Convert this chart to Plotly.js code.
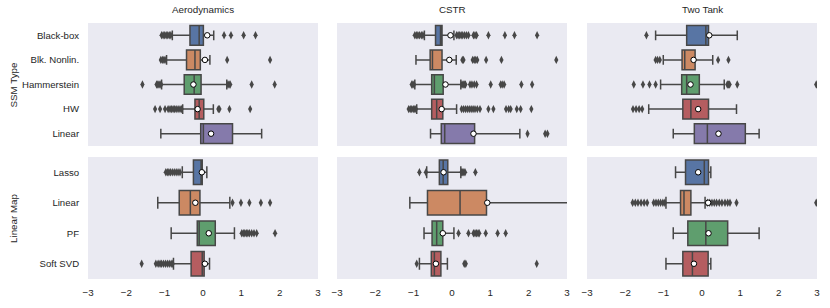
<!DOCTYPE html>
<html><head><meta charset="utf-8">
<script src="https://cdn.plot.ly/plotly-3.0.1.min.js"></script>
<style>body{margin:0;padding:0;}#chart{width:830px;height:308px;}</style>
</head><body><div id="chart"></div>
<script>
const datasets = ['Aerodynamics', 'CSTR', 'Two Tank'];
const ssmTypes = ['Black-box', 'Blk. Nonlin.', 'Hammerstein', 'HW', 'Linear'];
const linearMaps = ['Lasso', 'Linear', 'PF', 'Soft SVD'];
const ticks = [-3, -2, -1, 0, 1, 2, 3];

// SSM Type row: [Aerodynamics, CSTR, Two Tank], each in ssmTypes order
const ssmQ1   = [[-0.34,-0.43,-0.49,-0.21,-0.06], [-0.43,-0.57,-0.53,-0.53,-0.28], [-0.40,-0.52,-0.53,-0.50,-0.20]];
const ssmMed  = [[-0.10,-0.21,-0.23,-0.10, 0.01], [-0.30,-0.51,-0.46,-0.40,-0.19], [ 0.10,-0.45,-0.40,-0.29, 0.14]];
const ssmQ3   = [[ 0.01,-0.07,-0.05, 0.02, 0.77], [-0.26,-0.26,-0.23,-0.24, 0.59], [ 0.17,-0.18,-0.07, 0.17, 1.13]];
const ssmLo   = [[-0.80,-0.95,-1.08,-0.53,-1.10], [-0.72,-0.94,-0.97,-0.92,-0.56], [-1.21,-1.01,-1.08,-1.39,-0.75]];
const ssmHi   = [[ 0.28, 0.18, 0.62, 0.27, 1.53], [ 0.05, 0.11, 0.23, 0.12, 1.77], [ 0.92, 0.28, 0.58, 0.90, 1.49]];
const ssmMean = [[ 0.11, 0.05,-0.25,-0.14, 0.21], [-0.04,-0.07,-0.17,-0.27, 0.56], [ 0.19,-0.22,-0.30,-0.10, 0.43]];
const ssmOut = [
  [[-1.08,-1.04,-1.00,-0.96,-0.92,-0.88,-0.84,0.55,0.73,1.06,1.37],
   [-1.10,-1.06,-1.02,-0.99,0.63,1.75],
   [-1.58,-1.21,-1.18,-1.15,-1.12,-1.09,0.65,0.68,0.71,1.27,1.87],
   [-1.25,-1.12,-0.99,-0.91,-0.86,-0.82,-0.78,-0.74,-0.70,-0.65,-0.60,-0.56,0.40,0.43,0.69,1.23],
   []],
  [[-0.97,-0.93,-0.89,-0.85,-0.80,-0.76,0.12,0.16,0.20,0.24,0.28,0.33,0.38,0.43,0.56,0.60,0.64,0.95,1.38,1.63,2.22],
   [0.27,0.30,0.54,0.58,0.62,0.66,0.89,1.29,2.72],
   [-1.05,-1.02,-0.99,0.26,0.29,0.32,0.35,0.47,0.52,0.58,0.64,1.01,1.27,1.31,1.36,1.81,2.09],
   [-1.13,-1.09,-1.05,-1.01,-0.97,-0.94,0.25,0.30,0.35,0.40,0.45,0.50,0.55,0.60,0.66,0.73,0.95,1.08,1.41,1.48,1.53,1.69,1.79,2.07],
   [1.97,2.43,2.49]],
  [[-1.45],
   [-1.21,-1.16,-1.10,0.42,0.69],
   [-1.78,-1.54,-1.37,-1.21,0.66,0.69,0.72,0.92,2.98],
   [-1.80,-1.72,-1.64,-1.56],
   []]
];

// Linear Map row: [Aerodynamics, CSTR, Two Tank], each in linearMaps order
const mapQ1   = [[-0.25,-0.62,-0.15,-0.31], [-0.33,-0.64,-0.52,-0.54], [-0.43,-0.56,-0.37,-0.50]];
const mapMed  = [[-0.05,-0.33,-0.10,-0.02], [-0.23, 0.21,-0.40,-0.46], [ 0.06,-0.47, 0.10,-0.25]];
const mapQ3   = [[-0.02,-0.08, 0.32, 0.03], [-0.11, 0.90,-0.24,-0.29], [ 0.17,-0.29, 0.67, 0.16]];
const mapLo   = [[-0.54,-1.18,-0.83,-0.77], [-0.66,-1.10,-0.73,-0.85], [-0.69,-0.94,-0.75,-0.94]];
const mapHi   = [[ 0.10, 0.70, 0.82, 0.17], [ 0.23, 3.60, 0.05,-0.12], [ 0.23, 0.08, 1.49, 0.23]];
const mapMean = [[-0.03,-0.20, 0.15, 0.05], [-0.22, 0.92,-0.24,-0.42], [-0.10, 0.16, 0.17,-0.21]];
const mapOut = [
  [[-0.97,-0.93,-0.89,-0.85,-0.80,-0.75,-0.70,-0.65,-0.60],
   [0.77,0.99,1.21,1.51,1.75],
   [1.01,1.05,1.09,1.13,1.17,1.21,1.27,1.33,1.40,1.88],
   [-1.60,-1.23,-1.17,-1.12,-1.08,-1.03,-0.98,-0.93,-0.88,-0.83,-0.79]],
  [[-0.85,-0.68,0.25,0.28,0.31,0.34,0.61],
   [],
   [0.17,0.43,0.56,0.60,0.64,0.68,0.71,0.88,1.19,1.40],
   [-0.92,0.32,0.36,2.21]],
  [[],
   [-1.81,-1.74,-1.67,-1.59,-1.51,-1.43,-1.26,-1.20,-1.14,-1.08,-1.02,-0.97,0.14,0.20,0.26,0.32,0.38,0.45,0.52,0.60,0.67,0.73,0.90,2.98],
   [],
   []]
];

const palette = ['#5875a4', '#cc8963', '#5f9e6e', '#b55d60', '#857aab'];
const lineGray = '#474747';
const textColor = '#262626';
const FONT = '"Liberation Sans", Arial, sans-serif';

const traces = [];
function addPanel(idx, cats, q1, med, q3, lo, hi, mean, outs) {
  const xa = idx === 0 ? 'x' : 'x' + (idx + 1);
  const ya = idx === 0 ? 'y' : 'y' + (idx + 1);
  cats.forEach((c, i) => {
    traces.push({
      type: 'box', orientation: 'h', xaxis: xa, yaxis: ya,
      y: [c], q1: [q1[i]], median: [med[i]], q3: [q3[i]],
      lowerfence: [lo[i]], upperfence: [hi[i]],
      width: 0.8, whiskerwidth: 0.5,
      fillcolor: palette[i], line: {color: lineGray, width: 1.5},
      boxpoints: false, showlegend: false, hoverinfo: 'skip'
    });
    if (outs[i].length) {
      traces.push({
        type: 'scatter', mode: 'markers', xaxis: xa, yaxis: ya,
        x: outs[i], y: outs[i].map(() => c),
        marker: {symbol: 'diamond-tall', size: 6, color: lineGray, line: {width: 0}},
        showlegend: false, hoverinfo: 'skip', cliponaxis: true
      });
    }
  });
  traces.push({
    type: 'scatter', mode: 'markers', xaxis: xa, yaxis: ya,
    x: mean, y: cats,
    marker: {symbol: 'circle', size: 5.5, color: 'white', line: {color: 'black', width: 1}},
    showlegend: false, hoverinfo: 'skip'
  });
}
for (let d = 0; d < 3; d++) {
  addPanel(d, ssmTypes, ssmQ1[d], ssmMed[d], ssmQ3[d], ssmLo[d], ssmHi[d], ssmMean[d], ssmOut[d]);
  addPanel(d + 3, linearMaps, mapQ1[d], mapMed[d], mapQ3[d], mapLo[d], mapHi[d], mapMean[d], mapOut[d]);
}

const W = 830, H = 308;
const colPx = [[88, 318], [337, 567], [587, 817]];
const rowPx = [[23, 146], [157, 279]];
const layout = {
  width: W, height: H,
  margin: {l: 0, r: 0, t: 0, b: 0},
  paper_bgcolor: 'white', plot_bgcolor: '#eaeaf2',
  font: {family: FONT, size: 9.6, color: textColor},
  boxmode: 'overlay',
  showlegend: false,
  annotations: []
};
for (let p = 0; p < 6; p++) {
  const r = p < 3 ? 0 : 1, c = p % 3;
  const cats = r === 0 ? ssmTypes : linearMaps;
  const n = p + 1;
  layout['xaxis' + (p === 0 ? '' : n)] = {
    domain: [colPx[c][0] / W, colPx[c][1] / W],
    anchor: p === 0 ? 'y' : 'y' + n,
    range: [-3, 3], tickvals: ticks, ticktext: ticks.map(t => t < 0 ? '\u2212' + Math.abs(t) : String(t)),
    showgrid: false, zeroline: false, showline: false,
    showticklabels: r === 1, ticks: r === 1 ? 'outside' : '', ticklen: 4,
    tickcolor: 'rgba(0,0,0,0)', tickfont: {size: 9.8, color: textColor, family: FONT},
    fixedrange: true
  };
  layout['yaxis' + (p === 0 ? '' : n)] = {
    domain: [1 - rowPx[r][1] / H, 1 - rowPx[r][0] / H],
    anchor: p === 0 ? 'x' : 'x' + n,
    type: 'category', categoryorder: 'array', categoryarray: cats,
    range: [cats.length - 0.5, -0.5],
    showgrid: false, zeroline: false, showline: false,
    showticklabels: c === 0, ticks: c === 0 ? 'outside' : '', ticklen: 6,
    tickcolor: 'rgba(0,0,0,0)', tickfont: {size: 9.6, color: textColor, family: FONT},
    fixedrange: true
  };
}
datasets.forEach((name, c) => {
  layout.annotations.push({
    text: name, xref: 'paper', yref: 'paper',
    x: (colPx[c][0] + colPx[c][1]) / 2 / W, y: 1 - 10 / H,
    xanchor: 'center', yanchor: 'middle', showarrow: false,
    font: {size: 9.8, color: textColor, family: FONT}
  });
});
[['SSM Type', 0], ['Linear Map', 1]].forEach(([t, r]) => {
  layout.annotations.push({
    text: t, xref: 'paper', yref: 'paper', textangle: -90,
    x: 13 / W, y: 1 - (rowPx[r][0] + rowPx[r][1]) / 2 / H,
    xanchor: 'center', yanchor: 'middle', showarrow: false,
    font: {size: 9.8, color: textColor, family: FONT}
  });
});

Plotly.newPlot('chart', traces, layout, {displayModeBar: false, staticPlot: true});
</script>
</body></html>
